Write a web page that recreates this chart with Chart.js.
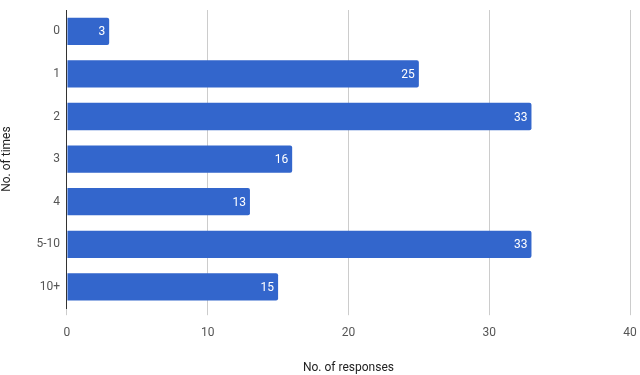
<!DOCTYPE html>
<html>
<head>
<meta charset="utf-8">
<script src="https://cdn.jsdelivr.net/npm/chart.js@4"></script>
<style>
  html, body { margin: 0; padding: 0; background: #fff; }
  #wrap { width: 640px; height: 375px; }
</style>
</head>
<body>
<div id="wrap"><canvas id="timesChart"></canvas></div>
<script>
const categories = ["0", "1", "2", "3", "4", "5-10", "10+"];
const responses = [3, 25, 33, 16, 13, 33, 15];
const xTicks = [0, 10, 20, 30, 40];

// draws the value in white just inside the end of each bar
const barValueLabels = {
  id: "barValueLabels",
  afterDatasetsDraw(chart) {
    const { ctx } = chart;
    const meta = chart.getDatasetMeta(0);
    ctx.save();
    ctx.font = "12px Roboto";
    ctx.fillStyle = "#ffffff";
    ctx.textAlign = "right";
    ctx.textBaseline = "middle";
    meta.data.forEach((bar, i) => {
      ctx.fillText(String(responses[i]), bar.x - 4, bar.y + 1);
    });
    ctx.restore();
  },
};

document.addEventListener("DOMContentLoaded", function () {
  const ctx = document.getElementById("timesChart").getContext("2d");

  new Chart(ctx, {
    type: "bar",
    data: {
      labels: categories,
      datasets: [
        {
          label: "Responses",
          data: responses,
          backgroundColor: "#3366cc",
          borderRadius: { topRight: 2, bottomRight: 2 },
          borderSkipped: "start",
          barPercentage: 0.64,
          categoryPercentage: 1,
        },
      ],
    },
    options: {
      indexAxis: "y",
      responsive: true,
      maintainAspectRatio: false,
      animation: false,
      layout: { padding: { top: 10, right: 10, left: 0, bottom: 0 } },
      plugins: {
        legend: { display: false },
        tooltip: { enabled: false },
      },
      scales: {
        x: {
          min: 0,
          max: 40,
          afterBuildTicks: (axis) => {
            axis.ticks = xTicks.map((v) => ({ value: v }));
          },
          afterFit: (axis) => {
            axis.paddingLeft = 0;
            axis.paddingRight = 0;
          },
          grid: {
            color: "#cccccc",
            tickLength: 7,
            drawTicks: true,
          },
          border: { display: false },
          ticks: {
            color: "#555555",
            font: { family: "Roboto", size: 12 },
            padding: 11,
          },
          title: {
            display: true,
            text: "No. of responses",
            color: "#222222",
            font: { family: "Roboto", size: 12 },
            padding: { top: 9, bottom: 0 },
          },
        },
        y: {
          afterFit: (axis) => {
            axis.paddingTop = 0;
            axis.paddingBottom = 0;
          },
          grid: { display: false, drawTicks: false },
          border: { display: true, color: "#333333", width: 1 },
          ticks: {
            color: "#555555",
            font: { family: "Roboto", size: 12 },
            padding: 7,
          },
          title: {
            display: true,
            text: "No. of times",
            color: "#222222",
            font: { family: "Roboto", size: 12 },
            padding: { top: 0, bottom: 15 },
          },
        },
      },
    },
    plugins: [barValueLabels],
  });
});
</script>
</body>
</html>
